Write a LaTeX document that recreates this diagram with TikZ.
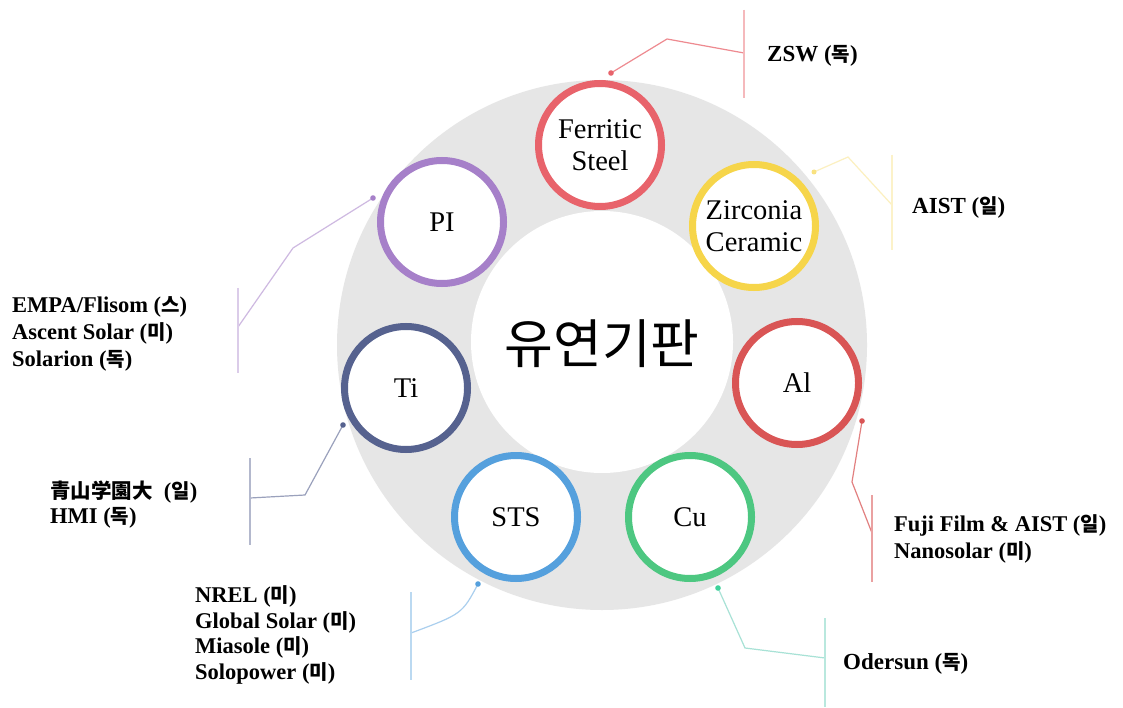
\documentclass[tikz,border=0pt]{standalone}
\usepackage{fontspec}
\setmainfont{Liberation Serif}
\newfontfamily\krfont{Noto Sans CJK KR}
\newfontfamily\jpfont{Noto Sans CJK JP}
\newcommand\kc[1]{{\krfont\fontsize{20}{22}\selectfont #1}}
\definecolor{ringgray}{HTML}{E6E6E6}
\definecolor{cferr}{HTML}{E8636B}
\definecolor{czirc}{HTML}{F6D54A}
\definecolor{cal}{HTML}{D95555}
\definecolor{ccu}{HTML}{4DC781}
\definecolor{csts}{HTML}{55A0DD}
\definecolor{cti}{HTML}{56628F}
\definecolor{cpi}{HTML}{A680C9}
\definecolor{cculine}{HTML}{A8E2D6}
\tikzset{
  sub/.style={circle, draw=#1, line width=7pt, fill=white, minimum size=123pt,
    inner sep=0pt, align=center, font=\fontsize{28.5}{32}\selectfont},
  lab/.style={anchor=west, inner sep=0pt, align=left,
    font=\bfseries\fontsize{23}{26.5}\selectfont},
  leader/.style={draw=#1, line width=1.2pt},
  bar/.style={draw=#1, line width=1.2pt},
  dotm/.style={fill=#1},
}
\begin{document}
\begin{tikzpicture}[x=1pt,y=-1pt]
\useasboundingbox (0,0) rectangle (1123,708);
\fill[white] (0,0) rectangle (1123,708);
% ring
\fill[ringgray] (602,345) circle (265);
\fill[white] (602,342) circle (131);
\node[font=\krfont\fontsize{53}{58}\selectfont] (hub) at (602,344) {유연기판};
% substrate circles
\node[sub=cferr] (fs) at (600,145) {Ferritic\\Steel};
\node[sub=czirc] (zc) at (754,226) {Zirconia\\Ceramic};
\node[sub=cal]   (al) at (797,383) {Al};
\node[sub=ccu]   (cu) at (690,517) {Cu};
\node[sub=csts]  (sts) at (516,517) {STS};
\node[sub=cti]   (ti) at (406,388) {Ti};
\node[sub=cpi]   (pi) at (442,222) {PI};
% labels
\node[lab] (lzsw) at (767,56) {ZSW (\kc{독})};
\node[lab] (laist) at (912,208) {AIST (\kc{일})};
\node[lab, font=\bfseries\fontsize{22.5}{27}\selectfont] (lempa) at (12,334) {EMPA/Flisom (\kc{스})\\Ascent Solar (\kc{미})\\Solarion (\kc{독})};
\node[lab, font=\bfseries\fontsize{22.5}{25}\selectfont] (ljp) at (50,505) {{\jpfont\fontsize{20.5}{22}\selectfont 青山学園大}\ \ (\kc{일})\\HMI (\kc{독})};
\node[lab, font=\bfseries\fontsize{22.5}{25.5}\selectfont] (lnrel) at (195,635) {NREL (\kc{미})\\Global Solar (\kc{미})\\Miasole (\kc{미})\\Solopower (\kc{미})};
\node[lab, font=\bfseries\fontsize{22.5}{27}\selectfont] (lfuji) at (894,539) {Fuji Film \& AIST (\kc{일})\\Nanosolar (\kc{미})};
\node[lab] (lode) at (843,664) {Odersun (\kc{독})};
% leader coordinates
\coordinate (dfs) at (611,73);  \coordinate (kfs) at (667,39);  \coordinate (efs) at (744,53);
\coordinate (bfs1) at (744,10); \coordinate (bfs2) at (744,98);
\coordinate (dzc) at (814,172); \coordinate (kzc) at (848,157); \coordinate (ezc) at (892,205);
\coordinate (bzc1) at (892,155); \coordinate (bzc2) at (892,250);
\coordinate (dpi) at (373,198); \coordinate (kpi) at (293,248); \coordinate (epi) at (238,327);
\coordinate (bpi1) at (238,288); \coordinate (bpi2) at (238,373);
\coordinate (dti) at (343,425); \coordinate (kti) at (305,495); \coordinate (eti) at (250,498);
\coordinate (bti1) at (250,458); \coordinate (bti2) at (250,545);
\coordinate (dsts) at (478,584); \coordinate (ests) at (411,633);
\coordinate (bsts1) at (411,592); \coordinate (bsts2) at (411,680);
\coordinate (dal) at (862,421); \coordinate (kal) at (852,482); \coordinate (eal) at (872,533);
\coordinate (bal1) at (872,495); \coordinate (bal2) at (872,582);
\coordinate (dcu) at (718,588); \coordinate (kcu) at (745,648); \coordinate (ecu) at (825,658);
\coordinate (bcu1) at (825,618); \coordinate (bcu2) at (825,707);
% leaders
\draw[leader=cferr!75] (dfs) -- (kfs) -- (efs);
\draw[bar=cferr!45] (bfs1) -- (bfs2);
\fill[dotm=cferr] (dfs) circle (2.8);
\draw[leader=czirc!35] (dzc) -- (kzc) -- (ezc);
\draw[bar=czirc!30] (bzc1) -- (bzc2);
\fill[dotm=czirc!70] (dzc) circle (2.5);
\draw[leader=cpi!55] (dpi) -- (kpi) -- (epi);
\draw[bar=cpi!40] (bpi1) -- (bpi2);
\fill[dotm=cpi] (dpi) circle (2.8);
\draw[leader=cti!60] (dti) -- (kti) -- (eti);
\draw[bar=cti!45] (bti1) -- (bti2);
\fill[dotm=cti] (dti) circle (2.8);
\draw[leader=csts!50] (dsts) .. controls (462,614) .. (ests);
\draw[bar=csts!40] (bsts1) -- (bsts2);
\fill[dotm=csts] (dsts) circle (2.8);
\draw[leader=cal!75] (dal) -- (kal) -- (eal);
\draw[bar=cal!55] (bal1) -- (bal2);
\fill[dotm=cal] (dal) circle (2.8);
\draw[leader=cculine] (dcu) -- (kcu) -- (ecu);
\draw[bar=cculine!80] (bcu1) -- (bcu2);
\fill[dotm=ccu!80!cyan] (dcu) circle (2.8);
\end{tikzpicture}
\end{document}
